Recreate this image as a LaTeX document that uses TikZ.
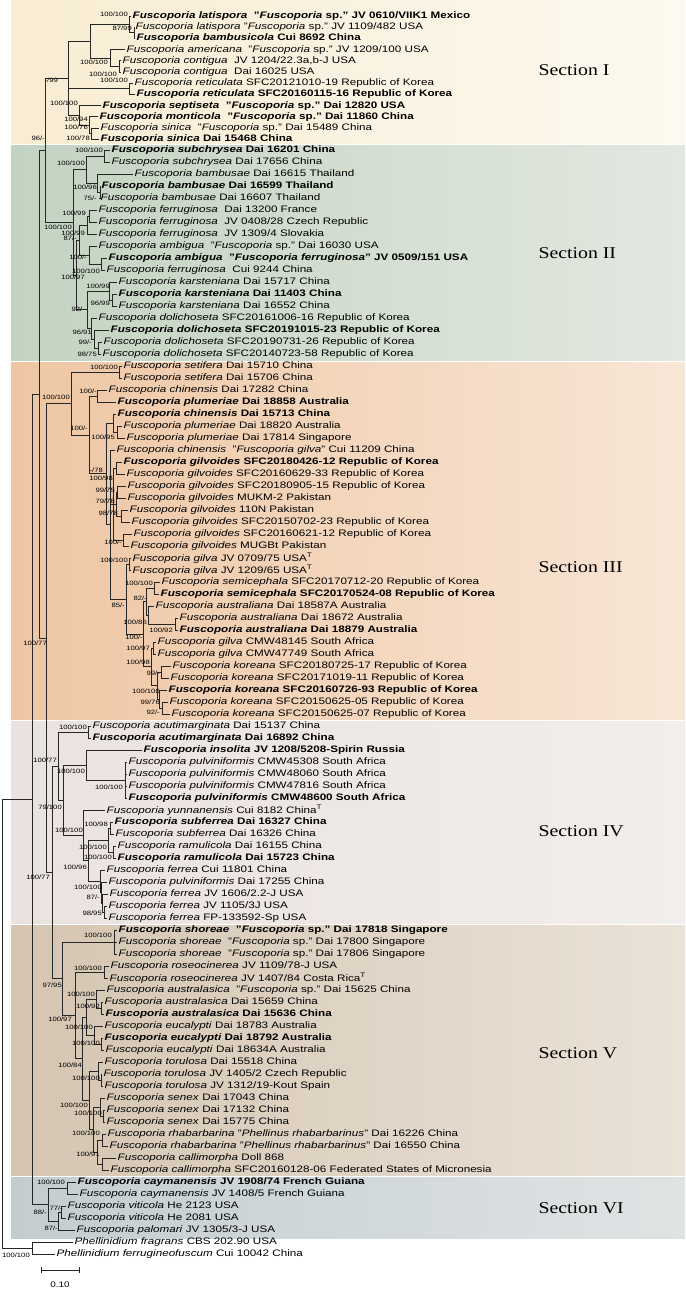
\documentclass[tikz,border=0pt]{standalone}
\usepackage{fontspec}
\setmainfont{Liberation Sans}[FakeStretch=1.24]
\newfontfamily\secfont{Liberation Serif}[FakeStretch=1.2]
\usetikzlibrary{calc}
\definecolor{secIa}{HTML}{F8ECD2}\definecolor{secIb}{HTML}{FDF9F0}
\definecolor{secIIa}{HTML}{C3D3C1}\definecolor{secIIb}{HTML}{E2E8E0}
\definecolor{secIIIa}{HTML}{EEC6A3}\definecolor{secIIIb}{HTML}{F8E6D6}
\definecolor{secIVa}{HTML}{EAE2DE}\definecolor{secIVb}{HTML}{F2EEEB}
\definecolor{secVa}{HTML}{D5C5B1}\definecolor{secVb}{HTML}{EAE2D8}
\definecolor{secVIa}{HTML}{C3CDCF}\definecolor{secVIb}{HTML}{DFE3E4}

% inner node: name, x, first child, last child
\newcommand\clade[4]{%
  \path let \p1=($(#3)!.5!(#4)$) in (#2pt,\y1) coordinate (#1);}
\newcommand\kids[2]{\foreach \c in {#2}{\draw[br] (#1) |- (\c);}}
% support value: name, right end, y, text
\newcommand\lab[4]{\node[bs] (#1) at (#2,#3) {#4};}
\newcommand\fsp{\textit{Fuscoporia}}

\begin{document}
\begin{tikzpicture}[x=1pt,y=-1pt,
  declare function={row(\i)=(\i<=13)*(16+(\i-1)*11.2)+(\i>13)*(150+(\i-13)*12);},
  br/.style={line width=0.75pt,black!85},
  leaf/.style={anchor=west,inner sep=1.5pt,font=\fontsize{9.4}{10}\selectfont},
  leafb/.style={leaf,font=\fontsize{9.4}{10}\selectfont\bfseries},
  bs/.style={font=\fontsize{6.2}{7}\selectfont,inner sep=0pt,anchor=east},
  section/.style={font=\secfont\fontsize{16.5}{18}\selectfont,anchor=west}]
\useasboundingbox (0,0) rectangle (685,1292);
\fill[white] (0,0) rectangle (685,1292);

% section backgrounds
\shade[left color=secIa,right color=secIb] (11,0) rectangle (685,144);
\shade[left color=secIIa,right color=secIIb] (11,146) rectangle (685,360);
\shade[left color=secIIIa,right color=secIIIb] (11,362) rectangle (685,719);
\shade[left color=secIVa,right color=secIVb] (11,721) rectangle (685,923);
\shade[left color=secVa,right color=secVb] (11,925) rectangle (685,1175);
\shade[left color=secVIa,right color=secVIb] (11,1177) rectangle (685,1238);

\node[section] (secI) at (535,70) {Section I};
\node[section] (secII) at (535,253) {Section II};
\node[section] (secIII) at (535,567) {Section III};
\node[section] (secIV) at (535,831) {Section IV};
\node[section] (secV) at (535,1053) {Section V};
\node[section] (secVI) at (535,1208) {Section VI};

% leaves
\node[leafb] (l1) at (131,{row(1)}) {\textit{Fuscoporia latispora} \ "\fsp\ sp." JV 0610/VIIK1 Mexico};
\node[leaf] (l2) at (134,{row(2)}) {\textit{Fuscoporia latispora} "\fsp\ sp." JV 1109/482 USA};
\node[leafb] (l3) at (135,{row(3)}) {\textit{Fuscoporia bambusicola} Cui 8692 China};
\node[leaf] (l4) at (125,{row(4)}) {\textit{Fuscoporia americana} \ "\fsp\ sp." JV 1209/100 USA};
\node[leaf] (l5) at (121,{row(5)}) {\textit{Fuscoporia contigua} \ JV 1204/22.3a,b-J USA};
\node[leaf] (l6) at (121,{row(6)}) {\textit{Fuscoporia contigua} \ Dai 16025 USA};
\node[leaf] (l7) at (133,{row(7)}) {\textit{Fuscoporia reticulata} SFC20121010-19 Republic of Korea};
\node[leafb] (l8) at (135,{row(8)}) {\textit{Fuscoporia reticulata} SFC20160115-16 Republic of Korea};
\node[leafb] (l9) at (101,{row(9)}) {\textit{Fuscoporia septiseta} \ "\fsp\ sp." Dai 12820 USA};
\node[leafb] (l10) at (98,{row(10)}) {\textit{Fuscoporia monticola} \ "\fsp\ sp." Dai 11860 China};
\node[leaf] (l11) at (99,{row(11)}) {\textit{Fuscoporia sinica} \ "\fsp\ sp." Dai 15489 China};
\node[leafb] (l12) at (99,{row(12)}) {\textit{Fuscoporia sinica} Dai 15468 China};
\node[leafb] (l13) at (110,{row(13)}) {\textit{Fuscoporia subchrysea} Dai 16201 China};
\node[leaf] (l14) at (110,{row(14)}) {\textit{Fuscoporia subchrysea} Dai 17656 China};
\node[leaf] (l15) at (133,{row(15)}) {\textit{Fuscoporia bambusae} Dai 16615 Thailand};
\node[leafb] (l16) at (100,{row(16)}) {\textit{Fuscoporia bambusae} Dai 16599 Thailand};
\node[leaf] (l17) at (99,{row(17)}) {\textit{Fuscoporia bambusae} Dai 16607 Thailand};
\node[leaf] (l18) at (97,{row(18)}) {\textit{Fuscoporia ferruginosa} \ Dai 13200 France};
\node[leaf] (l19) at (97,{row(19)}) {\textit{Fuscoporia ferruginosa} \ JV 0408/28 Czech Republic};
\node[leaf] (l20) at (97,{row(20)}) {\textit{Fuscoporia ferruginosa} \ JV 1309/4 Slovakia};
\node[leaf] (l21) at (97,{row(21)}) {\textit{Fuscoporia ambigua} \ "\fsp\ sp." Dai 16030 USA};
\node[leafb] (l22) at (107,{row(22)}) {\textit{Fuscoporia ambigua} \ "\textit{Fuscoporia ferruginosa}" JV 0509/151 USA};
\node[leaf] (l23) at (105,{row(23)}) {\textit{Fuscoporia ferruginosa} \ Cui 9244 China};
\node[leaf] (l24) at (117,{row(24)}) {\textit{Fuscoporia karsteniana} Dai 15717 China};
\node[leafb] (l25) at (117,{row(25)}) {\textit{Fuscoporia karsteniana} Dai 11403 China};
\node[leaf] (l26) at (117,{row(26)}) {\textit{Fuscoporia karsteniana} Dai 16552 China};
\node[leaf] (l27) at (97,{row(27)}) {\textit{Fuscoporia dolichoseta} SFC20161006-16 Republic of Korea};
\node[leafb] (l28) at (109,{row(28)}) {\textit{Fuscoporia dolichoseta} SFC20191015-23 Republic of Korea};
\node[leaf] (l29) at (102,{row(29)}) {\textit{Fuscoporia dolichoseta} SFC20190731-26 Republic of Korea};
\node[leaf] (l30) at (101,{row(30)}) {\textit{Fuscoporia dolichoseta} SFC20140723-58 Republic of Korea};
\node[leaf] (l31) at (122,{row(31)}) {\textit{Fuscoporia setifera} Dai 15710 China};
\node[leaf] (l32) at (122,{row(32)}) {\textit{Fuscoporia setifera} Dai 15706 China};
\node[leaf] (l33) at (107,{row(33)}) {\textit{Fuscoporia chinensis} Dai 17282 China};
\node[leafb] (l34) at (116,{row(34)}) {\textit{Fuscoporia plumeriae} Dai 18858 Australia};
\node[leafb] (l35) at (116,{row(35)}) {\textit{Fuscoporia chinensis} Dai 15713 China};
\node[leaf] (l36) at (122,{row(36)}) {\textit{Fuscoporia plumeriae} Dai 18820 Australia};
\node[leaf] (l37) at (125,{row(37)}) {\textit{Fuscoporia plumeriae} Dai 17814 Singapore};
\node[leaf] (l38) at (115,{row(38)}) {\textit{Fuscoporia chinensis} \ "\textit{Fuscoporia gilva}" Cui 11209 China};
\node[leafb] (l39) at (122,{row(39)}) {\textit{Fuscoporia gilvoides} SFC20180426-12 Republic of Korea};
\node[leaf] (l40) at (125,{row(40)}) {\textit{Fuscoporia gilvoides} SFC20160629-33 Republic of Korea};
\node[leaf] (l41) at (126,{row(41)}) {\textit{Fuscoporia gilvoides} SFC20180905-15 Republic of Korea};
\node[leaf] (l42) at (126,{row(42)}) {\textit{Fuscoporia gilvoides} MUKM-2 Pakistan};
\node[leaf] (l43) at (128,{row(43)}) {\textit{Fuscoporia gilvoides} 110N Pakistan};
\node[leaf] (l44) at (130,{row(44)}) {\textit{Fuscoporia gilvoides} SFC20150702-23 Republic of Korea};
\node[leaf] (l45) at (132,{row(45)}) {\textit{Fuscoporia gilvoides} SFC20160621-12 Republic of Korea};
\node[leaf] (l46) at (129,{row(46)}) {\textit{Fuscoporia gilvoides} MUGBt Pakistan};
\node[leaf] (l47) at (131,{row(47)}) {\textit{Fuscoporia gilva} JV 0709/75 USA\textsuperscript{T}};
\node[leaf] (l48) at (131,{row(48)}) {\textit{Fuscoporia gilva} JV 1209/65 USA\textsuperscript{T}};
\node[leaf] (l49) at (160,{row(49)}) {\textit{Fuscoporia semicephala} SFC20170712-20 Republic of Korea};
\node[leafb] (l50) at (159,{row(50)}) {\textit{Fuscoporia semicephala} SFC20170524-08 Republic of Korea};
\node[leaf] (l51) at (154,{row(51)}) {\textit{Fuscoporia australiana} Dai 18587A Australia};
\node[leaf] (l52) at (178,{row(52)}) {\textit{Fuscoporia australiana} Dai 18672 Australia};
\node[leafb] (l53) at (178,{row(53)}) {\textit{Fuscoporia australiana} Dai 18879 Australia};
\node[leaf] (l54) at (156,{row(54)}) {\textit{Fuscoporia gilva} CMW48145 South Africa};
\node[leaf] (l55) at (156,{row(55)}) {\textit{Fuscoporia gilva} CMW47749 South Africa};
\node[leaf] (l56) at (171,{row(56)}) {\textit{Fuscoporia koreana} SFC20180725-17 Republic of Korea};
\node[leaf] (l57) at (169,{row(57)}) {\textit{Fuscoporia koreana} SFC20171019-11 Republic of Korea};
\node[leafb] (l58) at (167,{row(58)}) {\textit{Fuscoporia koreana} SFC20160726-93 Republic of Korea};
\node[leaf] (l59) at (168,{row(59)}) {\textit{Fuscoporia koreana} SFC20150625-05 Republic of Korea};
\node[leaf] (l60) at (170,{row(60)}) {\textit{Fuscoporia koreana} SFC20150625-07 Republic of Korea};
\node[leaf] (l61) at (91,{row(61)}) {\textit{Fuscoporia acutimarginata} Dai 15137 China};
\node[leafb] (l62) at (91,{row(62)}) {\textit{Fuscoporia acutimarginata} Dai 16892 China};
\node[leafb] (l63) at (142,{row(63)}) {\textit{Fuscoporia insolita} JV 1208/5208-Spirin Russia};
\node[leaf] (l64) at (127,{row(64)}) {\textit{Fuscoporia pulviniformis} CMW45308 South Africa};
\node[leaf] (l65) at (127,{row(65)}) {\textit{Fuscoporia pulviniformis} CMW48060 South Africa};
\node[leaf] (l66) at (127,{row(66)}) {\textit{Fuscoporia pulviniformis} CMW47816 South Africa};
\node[leafb] (l67) at (127,{row(67)}) {\textit{Fuscoporia pulviniformis} CMW48600 South Africa};
\node[leaf] (l68) at (105,{row(68)}) {\textit{Fuscoporia yunnanensis} Cui 8182 China\textsuperscript{T}};
\node[leafb] (l69) at (113,{row(69)}) {\textit{Fuscoporia subferrea} Dai 16327 China};
\node[leaf] (l70) at (114,{row(70)}) {\textit{Fuscoporia subferrea} Dai 16326 China};
\node[leaf] (l71) at (116,{row(71)}) {\textit{Fuscoporia ramulicola} Dai 16155 China};
\node[leafb] (l72) at (116,{row(72)}) {\textit{Fuscoporia ramulicola} Dai 15723 China};
\node[leaf] (l73) at (105,{row(73)}) {\textit{Fuscoporia ferrea} Cui 11801 China};
\node[leaf] (l74) at (107,{row(74)}) {\textit{Fuscoporia pulviniformis} Dai 17255 China};
\node[leaf] (l75) at (108,{row(75)}) {\textit{Fuscoporia ferrea} JV 1606/2.2-J USA};
\node[leaf] (l76) at (107,{row(76)}) {\textit{Fuscoporia ferrea} JV 1105/3J USA};
\node[leaf] (l77) at (107,{row(77)}) {\textit{Fuscoporia ferrea} FP-133592-Sp USA};
\node[leafb] (l78) at (117,{row(78)}) {\textit{Fuscoporia shoreae} \ "\fsp\ sp." Dai 17818 Singapore};
\node[leaf] (l79) at (117,{row(79)}) {\textit{Fuscoporia shoreae} \ "\fsp\ sp." Dai 17800 Singapore};
\node[leaf] (l80) at (117,{row(80)}) {\textit{Fuscoporia shoreae} \ "\fsp\ sp." Dai 17806 Singapore};
\node[leaf] (l81) at (109,{row(81)}) {\textit{Fuscoporia roseocinerea} JV 1109/78-J USA};
\node[leaf] (l82) at (108,{row(82)}) {\textit{Fuscoporia roseocinerea} JV 1407/84 Costa Rica\textsuperscript{T}};
\node[leaf] (l83) at (105,{row(83)}) {\textit{Fuscoporia australasica} \ "\fsp\ sp." Dai 15625 China};
\node[leaf] (l84) at (103,{row(84)}) {\textit{Fuscoporia australasica} Dai 15659 China};
\node[leafb] (l85) at (104,{row(85)}) {\textit{Fuscoporia australasica} Dai 15636 China};
\node[leaf] (l86) at (103,{row(86)}) {\textit{Fuscoporia eucalypti} Dai 18783 Australia};
\node[leafb] (l87) at (103,{row(87)}) {\textit{Fuscoporia eucalypti} Dai 18792 Australia};
\node[leaf] (l88) at (104,{row(88)}) {\textit{Fuscoporia eucalypti} Dai 18634A Australia};
\node[leaf] (l89) at (103,{row(89)}) {\textit{Fuscoporia torulosa} Dai 15518 China};
\node[leaf] (l90) at (102,{row(90)}) {\textit{Fuscoporia torulosa} JV 1405/2 Czech Republic};
\node[leaf] (l91) at (103,{row(91)}) {\textit{Fuscoporia torulosa} JV 1312/19-Kout Spain};
\node[leaf] (l92) at (105,{row(92)}) {\textit{Fuscoporia senex} Dai 17043 China};
\node[leaf] (l93) at (105,{row(93)}) {\textit{Fuscoporia senex} Dai 17132 China};
\node[leaf] (l94) at (105,{row(94)}) {\textit{Fuscoporia senex} Dai 15775 China};
\node[leaf] (l95) at (106,{row(95)}) {\textit{Fuscoporia rhabarbarina} "\textit{Phellinus rhabarbarinus}" Dai 16226 China};
\node[leaf] (l96) at (108,{row(96)}) {\textit{Fuscoporia rhabarbarina} "\textit{Phellinus rhabarbarinus}" Dai 16550 China};
\node[leaf] (l97) at (116,{row(97)}) {\textit{Fuscoporia callimorpha} Doll 868};
\node[leaf] (l98) at (109,{row(98)}) {\textit{Fuscoporia callimorpha} SFC20160128-06 Federated States of Micronesia};
\node[leafb] (l99) at (76,{row(99)}) {\textit{Fuscoporia caymanensis} JV 1908/74 French Guiana};
\node[leaf] (l100) at (78,{row(100)}) {\textit{Fuscoporia caymanensis} JV 1408/5 French Guiana};
\node[leaf] (l101) at (66,{row(101)}) {\textit{Fuscoporia viticola} He 2123 USA};
\node[leaf] (l102) at (66,{row(102)}) {\textit{Fuscoporia viticola} He 2081 USA};
\node[leaf] (l103) at (75,{row(103)}) {\textit{Fuscoporia palomari} JV 1305/3-J USA};
\node[leaf] (l104) at (73,{row(104)}) {\textit{Phellinidium fragrans} CBS 202.90 USA};
\node[leaf] (l105) at (55,{row(105)}) {\textit{Phellinidium ferrugineofuscum} Cui 10042 China};

% Section I
\clade{a}{134}{l2}{l3}\kids{a}{l2,l3}
\clade{b}{129}{l1}{a}\kids{b}{l1,a}
\clade{d}{119}{l5}{l6}\kids{d}{l5,l6}
\clade{c}{110}{l4}{d}\kids{c}{l4,d}
\clade{e}{90}{b}{c}\kids{e}{b,c}
\clade{f}{129}{l7}{l8}\kids{f}{l7,l8}
\clade{h1}{91}{l11}{l12}\kids{h1}{l11,l12}
\clade{h2}{89}{l10}{h1}\kids{h2}{l10,h1}
\clade{h4}{79}{l9}{h2}\kids{h4}{l9,h2}
\clade{g}{68}{e}{h4}\kids{g}{e,f,h4}
\lab{bs-b}{128}{14}{100/100}
\lab{bs-a}{132}{28}{87/99}
\lab{bs-c}{108}{62}{100/100}
\lab{bs-d}{117}{74}{100/100}
\lab{bs-f}{128}{80}{100/100}
\lab{bs-g}{58}{80}{-/99}
\lab{bs-h4}{78}{103}{100/100}
\lab{bs-h2}{88}{119}{100/94}
\lab{bs-h1}{88}{127}{100/76}
\lab{bs-h0}{90}{138}{100/78}

% Section II
\clade{j}{104}{l13}{l14}\kids{j}{l13,l14}
\clade{m}{100}{l16}{l17}\kids{m}{l16,l17}
\clade{k}{97}{l15}{m}\kids{k}{l15,m}
\clade{n}{86}{j}{k}\kids{n}{j,k}
\clade{p1}{89}{l18}{l19}\kids{p1}{l18,l19}
\clade{P}{87}{p1}{l20}\kids{P}{p1,l20}
\clade{q}{101}{l22}{l23}\kids{q}{l22,l23}
\clade{p3}{89}{l21}{q}\kids{p3}{l21,q}
\clade{p4}{79}{P}{p3}\kids{p4}{P,p3}
\clade{r2}{112}{l25}{l26}\kids{r2}{l25,l26}
\clade{r}{109}{l24}{r2}\kids{r}{l24,r2}
\clade{t1}{98}{l29}{l30}\kids{t1}{l29,l30}
\clade{tt}{94}{l28}{t1}\kids{tt}{l28,t1}
\clade{t}{91}{l27}{tt}\kids{t}{l27,tt}
\clade{u1}{87}{r}{t}\kids{u1}{r,t}
\clade{u}{76}{p4}{u1}\kids{u}{p4,u1}
\clade{S2}{73}{n}{u}\kids{S2}{n,u}
\lab{bs-j}{103}{150}{100/100}
\lab{bs-n}{85}{163}{100/100}
\lab{bs-k}{97}{187}{100/96}
\lab{bs-m}{97}{198}{75/-}
\lab{bs-p1}{86}{213}{100/99}
\lab{bs-S2}{72}{227}{100/100}
\lab{bs-P}{85}{233}{100/99}
\lab{bs-p4}{77}{238}{87/-}
\lab{bs-p3}{87}{257}{100/-}
\lab{bs-q}{100}{271}{100/100}
\lab{bs-u}{85}{277}{100/97}
\lab{bs-r}{110}{286}{100/99}
\lab{bs-r2}{110}{303}{96/99}
\lab{bs-u1}{85}{309}{92/-}
\lab{bs-t}{92}{332}{96/91}
\lab{bs-tt}{92}{342}{99/-}
\lab{bs-t1}{97}{354}{98/75}

% Section III
\clade{v1}{119}{l31}{l32}\kids{v1}{l31,l32}
\clade{w1}{97}{l33}{l34}\kids{w1}{l33,l34}
\clade{w3}{117}{l36}{l37}\kids{w3}{l36,l37}
\clade{w2}{113}{l35}{w3}\kids{w2}{l35,w3}
\clade{g1}{116}{l39}{l40}\kids{g1}{l39,l40}
\clade{g2}{117}{l41}{l42}\kids{g2}{l41,l42}
\clade{g3}{121}{l43}{l44}\kids{g3}{l43,l44}
\clade{g4}{116}{g2}{g3}\kids{g4}{g2,g3}
\clade{gA}{123}{l45}{l46}\kids{gA}{l45,l46}
\clade{gR}{113}{g1}{gA}\kids{gR}{g1,g4,gA}
\clade{gv}{129}{l47}{l48}\kids{gv}{l47,l48}
\clade{sc}{154}{l49}{l50}\kids{sc}{l49,l50}
\clade{au2}{175}{l52}{l53}\kids{au2}{l52,l53}
\clade{au}{148}{l51}{au2}\kids{au}{l51,au2}
\clade{scau}{146}{sc}{au}\kids{scau}{sc,au}
\clade{ga}{153}{l54}{l55}\kids{ga}{l54,l55}
\clade{ko1}{161}{l56}{l57}\kids{ko1}{l56,l57}
\clade{ko2}{162}{l59}{l60}\kids{ko2}{l59,l60}
\clade{ko3}{159}{l58}{ko2}\kids{ko3}{l58,ko2}
\clade{ko}{157}{ko1}{ko3}\kids{ko}{ko1,ko3}
\clade{gako}{151}{ga}{ko}\kids{gako}{ga,ko}
\clade{SA}{143}{scau}{gako}\kids{SA}{scau,gako}
\clade{H3}{126}{gv}{SA}\kids{H3}{gv,SA}
\clade{Z3}{110}{l38}{H3}\kids{Z3}{l38,gR,H3}
\clade{YY}{106}{w2}{Z3}\kids{YY}{w2,Z3}
\clade{Y}{89}{w1}{YY}\kids{Y}{w1,YY}
\clade{X}{71}{v1}{Y}\kids{X}{v1,Y}
\lab{bs-v1}{118}{367}{100/100}
\lab{bs-w1}{97}{391}{100/-}
\lab{bs-X}{70}{397}{100/100}
\lab{bs-Y}{88}{428}{100/-}
\lab{bs-w3}{115}{437}{100/95}
\lab{bs-YY}{103}{470}{-/78}
\lab{bs-g1}{113}{478}{100/98}
\lab{bs-g2}{115}{490}{99/75}
\lab{bs-g4}{115}{501}{79/78}
\lab{bs-g3}{118}{513}{98/78}
\lab{bs-gA}{122}{542}{100/-}
\lab{bs-gv}{128}{560}{100/100}
\lab{bs-sc}{153}{583}{100/100}
\lab{bs-scau}{147}{598}{82/-}
\lab{bs-H3}{125}{605}{85/-}
\lab{bs-au}{147}{622}{100/86}
\lab{bs-au2}{173}{630}{100/92}
\lab{bs-SA}{143}{637}{100/-}
\lab{bs-ga}{150}{648}{100/97}
\lab{bs-gako}{150}{662}{100/98}
\lab{bs-ko1}{160}{673}{99/-}
\lab{bs-ko}{160}{691}{100/100}
\lab{bs-ko3}{160}{702}{99/76}
\lab{bs-ko2}{160}{712}{92/-}

% Section IV
\clade{ac}{88}{l61}{l62}\kids{ac}{l61,l62}
\clade{pv}{125}{l64}{l67}\kids{pv}{l64,l65,l66,l67}
\clade{ip}{86}{l63}{pv}\kids{ip}{l63,pv}
\clade{su}{110}{l69}{l70}\kids{su}{l69,l70}
\clade{ra}{113}{l71}{l72}\kids{ra}{l71,l72}
\clade{sura}{108}{su}{ra}\kids{sura}{su,ra}
\clade{fe3}{104}{l76}{l77}\kids{fe3}{l76,l77}
\clade{fe2}{102}{l75}{fe3}\kids{fe2}{l75,fe3}
\clade{fe1}{101}{l74}{fe2}\kids{fe1}{l74,fe2}
\clade{fe}{100}{l73}{fe1}\kids{fe}{l73,fe1}
\clade{ZZ}{88}{sura}{fe}\kids{ZZ}{sura,fe}
\clade{Z}{83}{l68}{ZZ}\kids{Z}{l68,ZZ}
\clade{IVb}{63}{ip}{Z}\kids{IVb}{ip,Z}
\clade{S4}{58}{ac}{IVb}\kids{S4}{ac,IVb}
\lab{bs-ac}{87}{727}{100/100}
\lab{bs-S4}{57}{760}{100/77}
\lab{bs-ip}{85}{771}{100/100}
\lab{bs-pv}{123}{787}{100/100}
\lab{bs-IVb}{62}{807}{79/100}
\lab{bs-su}{108}{824}{100/98}
\lab{bs-Z}{83}{830}{100/100}
\lab{bs-sura}{107}{847}{100/100}
\lab{bs-ra}{112}{857}{100/100}
\lab{bs-ZZ}{87}{867}{100/96}
\lab{bs-fe1}{102}{887}{100/100}
\lab{bs-fe2}{100}{897}{87/-}
\lab{bs-fe3}{102}{913}{98/95}

% Section V
\clade{sh}{114}{l78}{l80}\kids{sh}{l78,l79,l80}
\clade{ro}{104}{l81}{l82}\kids{ro}{l81,l82}
\clade{auB}{101}{l84}{l85}\kids{auB}{l84,l85}
\clade{auA}{96}{l83}{auB}\kids{auA}{l83,auB}
\clade{euB}{101}{l87}{l88}\kids{euB}{l87,l88}
\clade{euA}{94}{l86}{euB}\kids{euA}{l86,euB}
\clade{aueu}{86}{auA}{euA}\kids{aueu}{auA,euA}
\clade{toB}{101}{l90}{l91}\kids{toB}{l90,l91}
\clade{toA}{98}{l89}{toB}\kids{toA}{l89,toB}
\clade{seB}{103}{l93}{l94}\kids{seB}{l93,l94}
\clade{seA}{100}{l92}{seB}\kids{seA}{l92,seB}
\clade{rh}{102}{l95}{l96}\kids{rh}{l95,l96}
\clade{ca}{102}{l97}{l98}\kids{ca}{l97,l98}
\clade{rc}{97}{rh}{ca}\kids{rc}{rh,ca}
\clade{serc}{93}{seA}{rc}\kids{serc}{seA,rc}
\clade{tsrc}{89}{toA}{serc}\kids{tsrc}{toA,serc}
\clade{V3}{82}{aueu}{tsrc}\kids{V3}{aueu,tsrc}
\clade{S5b}{75}{ro}{V3}\kids{S5b}{ro,V3}
\clade{S5}{62}{sh}{S5b}\kids{S5}{sh,S5b}
\lab{bs-sh}{112}{935}{100/100}
\lab{bs-ro}{102}{968}{100/100}
\lab{bs-S5}{62}{985}{97/95}
\lab{bs-auA}{95}{994}{100/100}
\lab{bs-auB}{100}{1006}{100/92}
\lab{bs-aueu}{72}{1019}{100/97}
\lab{bs-euA}{93}{1027}{100/100}
\lab{bs-euB}{100}{1043}{100/100}
\lab{bs-V3}{82}{1065}{100/84}
\lab{bs-toB}{100}{1078}{100/100}
\lab{bs-tsrc}{88}{1105}{100/100}
\lab{bs-seB}{102}{1113}{100/100}
\lab{bs-rh}{100}{1133}{100/100}
\lab{bs-ca}{100}{1154}{100/91}

% Section VI
\clade{cy}{67}{l99}{l100}\kids{cy}{l99,l100}
\clade{vt}{61}{l101}{l102}\kids{vt}{l101,l102}
\clade{vp}{58}{vt}{l103}\kids{vp}{vt,l103}
\clade{S6}{48}{cy}{vp}\kids{S6}{cy,vp}
\lab{bs-cy}{65}{1182}{100/100}
\lab{bs-vt}{63}{1208}{77/-}
\lab{bs-S6}{47}{1212}{88/-}
\lab{bs-vp}{58}{1228}{87/-}

% backbone
\clade{S12}{45}{g}{S2}\kids{S12}{g,S2}
\clade{X880}{52}{S4}{S5}\kids{X880}{S4,S5}
\clade{N3}{46}{X}{X880}\kids{N3}{X,X880}
\clade{P39}{39}{S12}{N3}\kids{P39}{S12,N3}
\clade{ING}{32}{P39}{S6}\kids{ING}{P39,S6}
\clade{OUT}{32}{l104}{l105}\kids{OUT}{l104,l105}
\clade{root}{2}{ING}{OUT}\kids{root}{ING,OUT}
\lab{bs-S12}{45}{138}{96/-}
\lab{bs-N3}{47}{643}{100/77}
\lab{bs-X880}{50}{877}{100/77}
\lab{bs-OUT}{30}{1255}{100/100}

% scale bar
\coordinate (sbl) at (41,1270);
\coordinate (sbr) at (79,1270);
\draw[br] (sbl) -- (sbr);
\draw[br] ($(sbl)+(0,-3)$) -- ($(sbl)+(0,3)$);
\draw[br] ($(sbr)+(0,-3)$) -- ($(sbr)+(0,3)$);
\node[font=\fontsize{8}{9}\selectfont] (sblab) at (60,1285) {0.10};
\end{tikzpicture}
\end{document}
